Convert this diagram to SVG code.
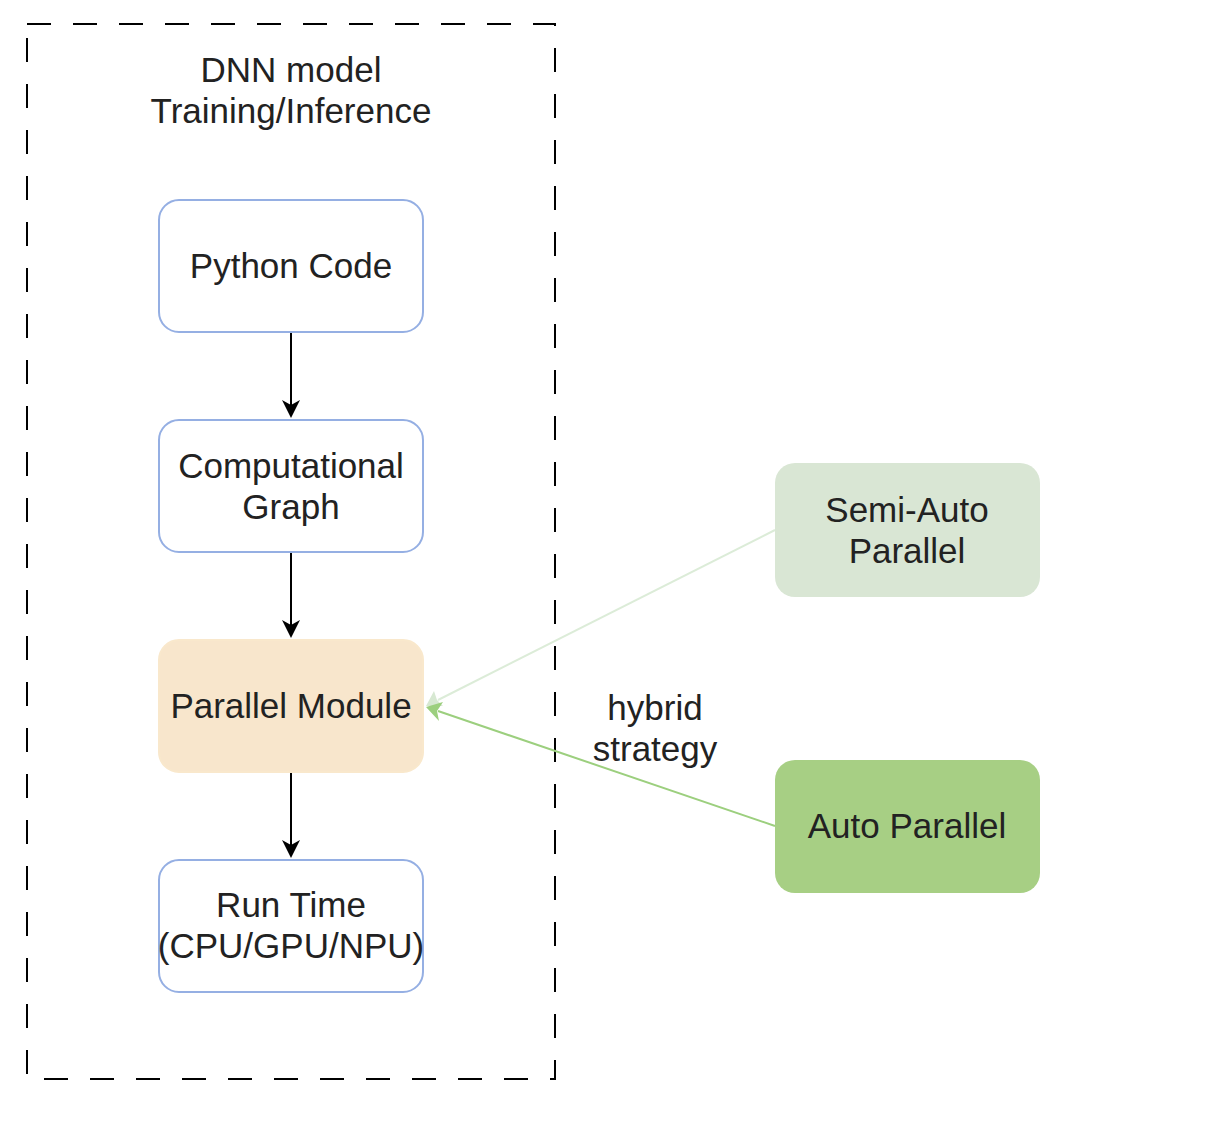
<svg xmlns="http://www.w3.org/2000/svg" width="1215" height="1124" viewBox="0 0 1215 1124">
<style>
text{font-family:"Liberation Sans",Arial,sans-serif;font-size:35px;fill:#222;text-anchor:middle}
.blue{fill:#fff;stroke:#95afe3;stroke-width:2}
.frame{fill:none;stroke:#000;stroke-width:2;stroke-dasharray:24 22}
.blk{stroke:#000;stroke-width:2;fill:none}
</style>
<defs>
<marker id="ab" markerWidth="10" markerHeight="10" refX="9" refY="5" orient="auto" markerUnits="userSpaceOnUse" viewBox="0 0 10 10">
<path d="M0,0 L10,5 L0,10 L2.5,5 Z" fill="#000"/>
</marker>
</defs>
<rect width="1215" height="1124" fill="#fff"/>
<g id="frame">
<rect class="frame" x="27" y="24" width="528" height="1055"/>
<text x="291" y="82">DNN model</text>
<text x="291" y="123">Training/Inference</text>
</g>
<g id="connectors">
<line class="blk" x1="291" y1="332" x2="291" y2="405"/>
<path d="M282,400 L291,418 L300,400 L291,405 Z" fill="#000"/>
<line class="blk" x1="291" y1="552" x2="291" y2="625"/>
<path d="M282,620 L291,638 L300,620 L291,625 Z" fill="#000"/>
<line class="blk" x1="291" y1="772" x2="291" y2="845"/>
<path d="M282,840 L291,858 L300,840 L291,845 Z" fill="#000"/>
<line x1="775" y1="530" x2="438" y2="700" stroke="#dcecd8" stroke-width="2"/>
<path d="M426,706 L434,691 L437,700 L443,706 Z" fill="#d7e8d2"/>
<line x1="775" y1="826" x2="438" y2="711" stroke="#9ccf7e" stroke-width="2"/>
<path d="M426,707 L443,702 L437,711 L439,721 Z" fill="#9ccf7e"/>
</g>
<g id="python-code">
<rect class="blue" x="159" y="200" width="264" height="132" rx="20"/>
<text x="291" y="278">Python Code</text>
</g>
<g id="computational-graph">
<rect class="blue" x="159" y="420" width="264" height="132" rx="20"/>
<text x="291" y="478">Computational</text>
<text x="291" y="519">Graph</text>
</g>
<g id="parallel-module">
<rect x="159" y="640" width="264" height="132" rx="20" fill="#f8e6cc" stroke="#f9e8cc" stroke-width="2"/>
<text x="291" y="718">Parallel Module</text>
</g>
<g id="run-time">
<rect class="blue" x="159" y="860" width="264" height="132" rx="20"/>
<text x="291" y="917">Run Time</text>
<text x="291" y="958">(CPU/GPU/NPU)</text>
</g>
<g id="semi-auto">
<rect x="775" y="463" width="265" height="134" rx="20" fill="#d9e6d4"/>
<text x="907" y="522">Semi-Auto</text>
<text x="907" y="563">Parallel</text>
</g>
<g id="auto-parallel">
<rect x="775" y="760" width="265" height="133" rx="20" fill="#a7cf84"/>
<text x="907" y="838">Auto Parallel</text>
</g>
<g id="hybrid-label">
<text x="655" y="720">hybrid</text>
<text x="655" y="761">strategy</text>
</g>
</svg>
